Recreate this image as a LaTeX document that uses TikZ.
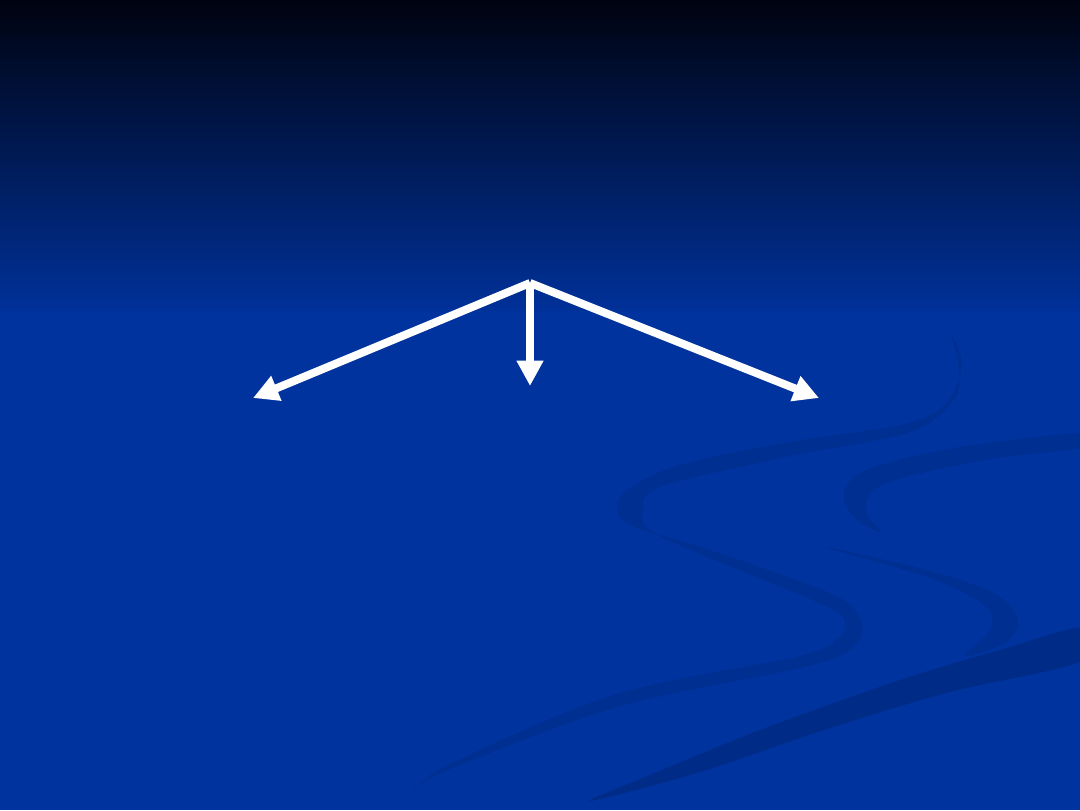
\documentclass[tikz,border=0pt]{standalone}
\usetikzlibrary{arrows.meta}
\definecolor{bgblue}{RGB}{0,51,158}
\definecolor{bgtop}{RGB}{0,3,16}
\definecolor{bgmid}{RGB}{0,49,153}
\definecolor{swoosh}{RGB}{0,47,146}
\definecolor{swooshdark}{RGB}{0,44,136}
\tikzset{
  arrowline/.style={draw=white, line width=6pt, -{Triangle[length=19pt,width=19pt]}},
  swooshfill/.style={fill=swoosh, draw=none},
}
\begin{document}
\begin{tikzpicture}[x=0.75pt,y=-0.75pt]
\useasboundingbox (0,0) rectangle (1080,810);
% background
\fill[bgblue] (0,300) rectangle (1080,810);
\shade[top color=bgtop, bottom color=bgmid] (0,0) rectangle (1080,310);
% swooshes
\fill[swooshfill] plot[smooth cycle, tension=0.55] coordinates {
  (951,335) (962,365) (945,405) (900,425) (790,442) (680,465) (630,488) (617,507)
  (632,526) (704,548) (834,595) (862,625) (850,650) (800,668) (617,707) (443,772) (413,792)
  (450,764) (617,694) (800,656) (838,638) (845,623) (826,606) (700,554) (650,530)
  (643,510) (660,487) (790,456) (910,432) (955,398) (958,362)};
\fill[swooshfill] plot[smooth cycle, tension=0.55] coordinates {
  (1085,433) (960,447) (877,466) (849,482) (844,500) (858,521) (881,532)
  (867,514) (871,493) (902,478) (990,459) (1085,447)};
\fill[swooshfill] plot[smooth cycle, tension=0.55] coordinates {
  (825,547) (930,571) (995,594) (1018,620) (1005,643) (964,656)
  (990,630) (985,606) (930,578)};
\fill[swooshdark] plot[smooth cycle, tension=0.55] coordinates {
  (1082,628) (1000,650) (900,680) (760,730) (650,775) (590,801)
  (700,772) (830,728) (950,692) (1082,661)};
% arrows
\coordinate (top) at (530,283);
\coordinate (L) at (253,398);
\coordinate (C) at (530,386);
\coordinate (R) at (819,398);
\draw[arrowline] (top) -- (L);
\draw[arrowline] (top) -- (C);
\draw[arrowline] (top) -- (R);
\end{tikzpicture}
\end{document}
